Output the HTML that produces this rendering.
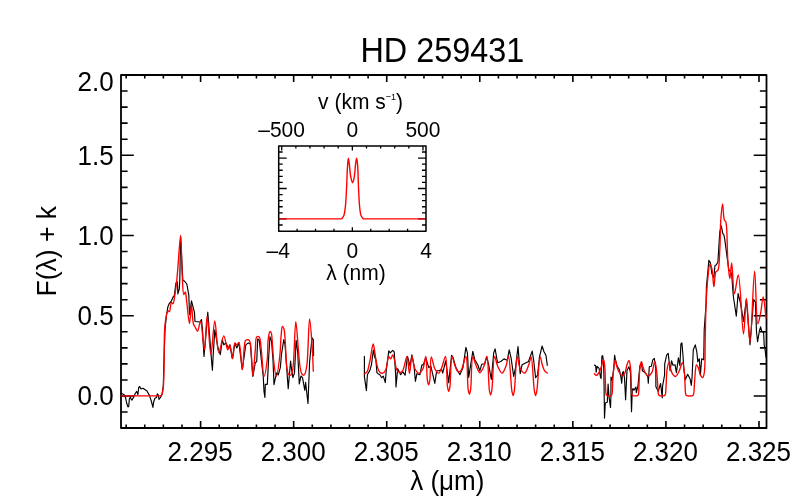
<!DOCTYPE html>
<html><head><meta charset="utf-8"><style>
html,body{margin:0;padding:0;background:#fff;width:806px;height:504px;overflow:hidden}
svg{display:block;will-change:transform}
</style></head><body>
<svg width="806" height="504" viewBox="0 0 806 504">
<rect width="806" height="504" fill="#fff"/>
<path d="M126.15,428.0 V424.5 M126.15,75.0 V78.5 M144.76,428.0 V424.5 M144.76,75.0 V78.5 M163.37,428.0 V424.5 M163.37,75.0 V78.5 M181.99,428.0 V424.5 M181.99,75.0 V78.5 M200.60,428.0 V421.0 M200.60,75.0 V82.0 M219.21,428.0 V424.5 M219.21,75.0 V78.5 M237.83,428.0 V424.5 M237.83,75.0 V78.5 M256.44,428.0 V424.5 M256.44,75.0 V78.5 M275.05,428.0 V424.5 M275.05,75.0 V78.5 M293.66,428.0 V421.0 M293.66,75.0 V82.0 M312.28,428.0 V424.5 M312.28,75.0 V78.5 M330.89,428.0 V424.5 M330.89,75.0 V78.5 M349.50,428.0 V424.5 M349.50,75.0 V78.5 M368.12,428.0 V424.5 M368.12,75.0 V78.5 M386.73,428.0 V421.0 M386.73,75.0 V82.0 M405.34,428.0 V424.5 M405.34,75.0 V78.5 M423.96,428.0 V424.5 M423.96,75.0 V78.5 M442.57,428.0 V424.5 M442.57,75.0 V78.5 M461.18,428.0 V424.5 M461.18,75.0 V78.5 M479.79,428.0 V421.0 M479.79,75.0 V82.0 M498.41,428.0 V424.5 M498.41,75.0 V78.5 M517.02,428.0 V424.5 M517.02,75.0 V78.5 M535.63,428.0 V424.5 M535.63,75.0 V78.5 M554.25,428.0 V424.5 M554.25,75.0 V78.5 M572.86,428.0 V421.0 M572.86,75.0 V82.0 M591.47,428.0 V424.5 M591.47,75.0 V78.5 M610.09,428.0 V424.5 M610.09,75.0 V78.5 M628.70,428.0 V424.5 M628.70,75.0 V78.5 M647.31,428.0 V424.5 M647.31,75.0 V78.5 M665.92,428.0 V421.0 M665.92,75.0 V82.0 M684.54,428.0 V424.5 M684.54,75.0 V78.5 M703.15,428.0 V424.5 M703.15,75.0 V78.5 M721.76,428.0 V424.5 M721.76,75.0 V78.5 M740.38,428.0 V424.5 M740.38,75.0 V78.5 M758.99,428.0 V421.0 M758.99,75.0 V82.0 M121.0,428.10 H127.6 M766.5,428.10 H759.9 M121.0,412.05 H127.6 M766.5,412.05 H759.9 M121.0,396.00 H133.8 M766.5,396.00 H753.7 M121.0,379.95 H127.6 M766.5,379.95 H759.9 M121.0,363.90 H127.6 M766.5,363.90 H759.9 M121.0,347.85 H127.6 M766.5,347.85 H759.9 M121.0,331.80 H127.6 M766.5,331.80 H759.9 M121.0,315.75 H133.8 M766.5,315.75 H753.7 M121.0,299.70 H127.6 M766.5,299.70 H759.9 M121.0,283.65 H127.6 M766.5,283.65 H759.9 M121.0,267.60 H127.6 M766.5,267.60 H759.9 M121.0,251.55 H127.6 M766.5,251.55 H759.9 M121.0,235.50 H133.8 M766.5,235.50 H753.7 M121.0,219.45 H127.6 M766.5,219.45 H759.9 M121.0,203.40 H127.6 M766.5,203.40 H759.9 M121.0,187.35 H127.6 M766.5,187.35 H759.9 M121.0,171.30 H127.6 M766.5,171.30 H759.9 M121.0,155.25 H133.8 M766.5,155.25 H753.7 M121.0,139.20 H127.6 M766.5,139.20 H759.9 M121.0,123.15 H127.6 M766.5,123.15 H759.9 M121.0,107.10 H127.6 M766.5,107.10 H759.9 M121.0,91.05 H127.6 M766.5,91.05 H759.9 M121.0,75.00 H133.8 M766.5,75.00 H753.7" fill="none" stroke="#000" stroke-width="1.6"/>
<path d="M121.0,75.0 H766.5 V428.0 H121.0 Z" fill="none" stroke="#000" stroke-width="1.8" stroke-linejoin="round"/>
<g fill="none" stroke="#000" stroke-width="1.15" stroke-linejoin="round" stroke-linecap="round">
<path d="M121.6,393.4 L124.0,394.6 L125.6,397.8 L126.7,403.3 L127.9,406.9 L128.7,406.5 L129.4,398.6 L130.3,397.4 L131.9,400.2 L133.5,397.4 L135.1,393.8 L136.7,391.4 L137.9,394.6 L138.7,387.5 L139.7,386.5 L141.0,389.0 L143.0,388.3 L147.0,391.0 L149.4,395.4 L151.3,401.0 L152.9,407.3 L153.7,401.7 L154.9,398.2 L156.5,397.4 L157.3,393.8 L158.1,394.6 L159.0,399.4 L160.5,397.4 L162.0,394.6 L163.3,385.9 L163.7,370.0 L165.0,330.0 L166.4,315.7 L167.9,306.8 L169.4,303.3 L171.4,300.8 L172.9,297.4 L174.4,295.4 L175.9,283.0 L177.4,282.0 L177.9,293.9 L179.3,288.9 L179.8,280.0 L180.6,236.5 L182.8,280.0 L184.8,281.5 L186.8,284.0 L188.8,294.9 L189.5,314.5 L191.5,300.8 L194.5,312.7 L195.0,321.5 L200.0,322.0 L201.5,319.5 L202.5,329.8 L204.0,356.4 L205.5,339.3 L207.8,312.2 L209.0,328.0 L211.5,360.0 L212.4,370.3 L213.2,355.0 L214.8,329.9 L217.8,346.8 L220.3,354.7 L222.3,339.8 L223.8,344.8 L225.8,342.8 L228.7,348.8 L230.0,344.9 L232.3,358.6 L234.9,343.4 L236.7,347.9 L238.9,342.9 L242.3,369.5 L245.8,344.9 L248.3,342.9 L250.3,344.0 L252.9,376.4 L255.3,362.5 L256.7,361.7 L257.7,338.9 L259.2,339.9 L260.5,352.0 L263.3,377.2 L264.0,391.5 L264.9,397.4 L265.3,384.3 L267.3,384.3 L268.0,370.9 L268.8,355.0 L270.0,336.7 L271.5,341.0 L273.0,360.0 L274.0,384.7 L275.2,378.8 L276.7,372.9 L278.3,374.8 L280.3,367.7 L281.5,354.1 L283.8,339.6 L285.0,344.3 L287.4,377.6 L288.2,388.7 L290.6,361.0 L291.3,367.3 L292.9,377.6 L294.5,372.9 L296.1,340.3 L297.7,352.2 L299.3,384.0 L300.9,376.0 L302.5,377.6 L304.8,390.3 L305.6,382.4 L308.0,403.5 L309.6,361.7 L312.0,337.9 L313.3,339.5 L313.6,355.4"/>
<path d="M364.4,356.4 L364.4,376.7 L366.4,390.6 L367.4,374.8 L369.9,370.3 L371.4,364.8 L373.4,350.0 L374.9,357.8 L375.9,359.8 L376.9,372.7 L377.9,373.7 L379.8,374.7 L381.8,377.7 L383.3,376.2 L385.3,382.6 L386.3,369.7 L388.8,350.9 L390.3,352.9 L392.7,350.4 L394.2,351.9 L395.7,375.7 L396.0,387.0 L397.7,368.7 L399.7,372.7 L400.7,374.7 L402.7,371.7 L405.1,375.2 L407.5,356.3 L410.0,365.8 L411.9,354.8 L413.9,364.8 L415.4,381.3 L416.9,373.7 L419.9,374.7 L421.9,364.8 L423.4,364.8 L425.8,357.8 L428.8,367.7 L430.8,365.8 L432.8,374.7 L434.8,383.3 L436.7,370.7 L438.7,370.7 L441.7,369.7 L442.7,373.2 L445.7,360.8 L448.7,382.6 L451.6,355.3 L453.0,357.4 L456.0,367.8 L459.9,374.7 L462.9,367.8 L465.9,347.4 L467.4,352.9 L468.7,377.5 L472.8,351.4 L474.8,359.8 L477.8,364.8 L479.8,370.8 L481.7,364.3 L484.7,363.8 L486.7,356.9 L488.7,364.8 L491.3,379.5 L493.7,352.9 L495.1,348.9 L497.6,362.8 L500.8,361.5 L504.0,358.9 L507.3,360.2 L509.2,349.8 L511.1,358.2 L513.7,376.3 L515.6,367.3 L518.0,346.6 L520.2,373.7 L522.1,364.7 L526.0,362.7 L528.5,361.5 L532.2,351.1 L533.7,360.8 L535.6,377.6 L537.6,375.0 L539.5,356.9 L542.1,346.0 L544.0,351.8 L546.0,355.6 L547.3,365.3"/>
<path d="M594.4,365.1 L595.6,365.5 L596.2,372.2 L597.1,366.3 L597.9,367.1 L599.1,368.3 L600.3,376.2 L601.1,378.6 L601.9,356.3 L602.7,355.6 L603.5,361.9 L603.9,373.8 L604.5,418.1 L605.3,403.0 L607.3,402.2 L608.1,384.0 L608.9,395.9 L610.5,407.4 L610.9,397.1 L611.0,377.0 L612.2,380.2 L613.8,368.3 L614.6,355.2 L615.4,359.5 L617.0,365.9 L619.4,369.8 L621.0,377.8 L621.7,383.3 L622.5,373.0 L623.3,371.4 L624.5,377.8 L625.6,399.8 L627.0,370.3 L629.0,366.8 L630.5,372.7 L631.5,411.7 L632.3,390.0 L633.0,388.6 L633.9,390.3 L635.9,387.1 L636.3,392.7 L637.9,386.3 L639.9,365.8 L641.4,362.8 L642.4,370.8 L643.8,371.7 L646.3,374.2 L647.8,376.7 L648.3,383.1 L649.3,366.8 L651.3,366.3 L652.8,359.8 L654.3,358.4 L655.8,368.8 L655.9,386.7 L658.3,391.4 L660.6,383.5 L662.2,397.8 L662.6,385.9 L664.6,374.8 L664.7,363.8 L666.7,354.9 L668.2,353.4 L670.1,370.8 L671.5,360.8 L673.0,365.2 L675.0,364.7 L676.4,372.7 L678.4,357.8 L679.9,365.7 L680.9,343.9 L681.9,342.9 L682.9,354.8 L683.9,369.7 L685.3,379.8 L687.7,374.3 L690.1,379.0 L691.3,385.4 L692.1,376.7 L693.3,349.8 L695.3,344.9 L696.8,351.8 L697.8,361.7 L699.3,358.8 L700.4,374.7 L701.7,358.8 L703.7,359.8 L704.2,330.0 L706.1,303.8 L706.4,286.7 L708.9,260.4 L710.4,262.9 L711.9,273.8 L713.9,277.7 L714.9,265.8 L716.4,264.8 L717.9,261.9 L719.8,231.7 L721.3,225.8 L722.8,233.7 L723.8,234.7 L724.8,239.7 L726.8,254.9 L728.8,269.8 L730.8,271.8 L731.7,274.8 L733.3,296.0 L736.3,316.2 L738.1,293.6 L740.5,303.1 L743.5,321.5 L746.4,299.5 L750.0,344.8 L753.6,299.5 L755.4,301.9 L756.5,331.7 L757.6,341.7 L759.4,331.0 L760.6,326.8 L761.8,331.5 L763.6,332.1 L764.2,345.2 L764.8,347.6 L766.0,357.1"/>
</g>
<g fill="none" stroke="#f00" stroke-width="1.35" stroke-linejoin="round" stroke-linecap="round">
<path d="M121.00,395.80 C123.33,395.80 130.25,395.80 135.00,395.80 C139.91,395.80 145.53,395.80 150.00,395.80 C153.61,395.80 157.97,395.92 159.80,395.80 C160.52,395.75 160.90,395.89 161.30,395.60 C161.79,395.24 162.02,394.41 162.30,393.50 C162.76,392.04 163.04,390.03 163.30,387.50 C163.74,383.20 163.81,377.02 164.00,370.00 C164.29,359.39 163.99,339.50 164.60,330.00 C164.94,324.71 165.33,321.19 166.00,317.70 C166.51,315.05 167.01,311.15 167.90,310.80 C168.34,310.62 168.96,311.89 169.40,311.70 C170.42,311.26 170.46,302.58 171.40,302.30 C171.84,302.17 172.46,303.93 172.90,303.80 C173.82,303.53 174.33,298.03 174.90,294.90 C175.52,291.46 175.95,287.87 176.40,284.00 C176.90,279.63 177.20,275.70 177.70,270.00 C178.49,261.05 179.86,235.48 180.60,235.50 C181.39,235.52 181.53,264.14 182.20,275.00 C182.67,282.64 182.73,294.26 183.80,294.50 C184.22,294.59 184.90,291.82 185.30,291.90 C185.96,292.02 186.04,296.45 186.50,299.80 C187.31,305.61 188.65,323.71 189.50,323.70 C190.25,323.69 190.75,304.80 191.40,304.80 C192.05,304.80 192.25,319.83 193.40,323.70 C193.95,325.56 194.71,326.31 195.40,327.60 C196.08,328.88 196.82,331.47 197.50,331.40 C198.55,331.29 199.58,321.43 200.50,321.50 C202.03,321.62 203.31,349.83 204.40,349.80 C205.58,349.77 206.16,316.11 207.20,316.10 C208.31,316.09 209.59,354.69 210.90,354.70 C212.13,354.71 213.46,321.01 214.80,321.00 C216.10,320.99 216.94,352.55 218.80,352.70 C220.18,352.81 222.26,335.89 223.80,335.90 C225.20,335.91 226.53,349.74 227.70,349.80 C228.41,349.84 229.05,344.75 229.70,344.80 C230.75,344.89 231.85,358.73 232.70,358.70 C233.60,358.67 233.57,343.35 234.90,342.90 C235.46,342.71 236.25,344.94 236.90,344.90 C237.59,344.86 238.30,342.23 238.90,342.40 C240.65,342.89 241.34,369.71 242.40,369.70 C243.48,369.69 243.50,343.89 245.30,340.90 C245.75,340.15 246.24,340.07 246.80,339.90 C247.39,339.72 248.26,339.56 248.80,339.90 C249.51,340.34 249.86,341.30 250.30,342.90 C251.69,347.91 251.91,375.59 252.80,375.60 C253.59,375.61 254.57,357.12 255.30,350.00 C255.82,344.91 255.23,338.22 256.70,336.90 C257.34,336.32 258.53,336.32 259.20,336.90 C260.76,338.24 260.62,345.01 261.30,350.20 C262.25,357.46 262.86,376.35 264.00,376.40 C264.91,376.44 266.48,365.88 267.20,360.00 C268.02,353.30 267.53,343.47 268.30,338.30 C268.74,335.37 269.27,331.70 270.00,331.50 C270.36,331.40 270.87,332.01 271.20,332.70 C272.05,334.48 272.03,339.75 272.40,343.80 C272.85,348.69 272.96,354.60 273.60,360.00 C274.25,365.46 275.33,376.40 276.30,376.40 C277.38,376.40 279.00,362.80 279.80,356.00 C280.59,349.30 280.55,341.33 281.10,335.90 C281.48,332.17 281.63,326.68 282.40,326.50 C282.81,326.40 283.51,327.65 283.90,328.70 C284.64,330.68 284.64,334.01 285.00,338.00 C285.65,345.15 285.98,361.92 286.90,368.00 C287.31,370.71 287.54,372.59 288.30,373.80 C288.76,374.53 289.42,375.19 290.00,375.20 C290.59,375.21 291.32,374.61 291.80,373.80 C292.76,372.20 292.84,369.06 293.30,365.00 C294.32,356.03 294.84,321.62 295.80,321.60 C296.58,321.59 297.63,341.81 298.40,350.00 C298.99,356.24 299.28,362.14 300.00,366.50 C300.48,369.41 300.89,372.25 301.70,373.70 C302.13,374.47 302.68,375.16 303.20,375.20 C303.71,375.24 304.33,374.72 304.80,374.00 C305.80,372.46 306.29,369.20 306.90,365.00 C308.26,355.63 308.58,319.02 309.60,319.00 C310.42,318.99 311.68,339.58 312.30,348.80 C312.84,356.76 313.13,367.38 313.30,371.10"/>
<path d="M364.40,373.80 C364.82,373.53 366.18,373.19 366.90,372.20 C368.34,370.22 368.94,364.99 369.90,360.80 C371.06,355.74 372.29,343.90 373.20,343.90 C373.87,343.90 374.33,349.69 374.90,352.90 C375.56,356.59 375.94,361.35 376.90,364.80 C377.68,367.60 378.45,370.92 379.80,372.20 C380.65,373.01 381.88,373.46 382.80,373.20 C383.91,372.89 384.95,371.38 385.80,369.70 C387.24,366.86 387.50,357.17 388.80,356.80 C389.40,356.63 390.20,358.90 390.80,358.80 C391.54,358.67 392.10,354.76 392.70,354.80 C393.42,354.84 394.08,358.59 394.70,360.80 C395.44,363.46 395.56,367.63 396.70,369.70 C397.48,371.11 398.66,372.60 399.70,372.70 C400.66,372.80 401.80,371.92 402.70,370.70 C404.54,368.21 405.88,356.22 407.00,356.30 C408.20,356.39 408.68,373.40 409.50,373.40 C410.32,373.40 410.90,356.35 411.90,356.30 C412.76,356.26 413.34,365.72 414.90,368.70 C415.97,370.75 417.57,373.20 418.90,373.20 C420.23,373.20 421.84,370.75 422.90,368.70 C424.44,365.72 425.08,356.24 425.80,356.30 C426.79,356.38 426.61,375.49 427.40,380.30 C427.75,382.42 428.20,384.80 428.60,384.80 C429.00,384.80 429.45,382.41 429.80,380.30 C430.58,375.55 430.16,356.93 431.30,356.80 C432.13,356.71 433.21,365.80 434.80,368.70 C435.90,370.71 437.56,373.32 438.70,373.20 C439.87,373.07 440.74,369.92 441.70,367.70 C443.04,364.63 444.56,356.18 445.50,356.30 C447.00,356.49 446.58,381.18 447.50,386.80 C447.86,388.99 448.30,391.30 448.70,391.30 C449.10,391.30 449.54,388.99 449.90,386.80 C450.83,381.19 450.63,356.57 452.00,356.40 C452.78,356.31 453.90,363.07 455.00,365.80 C455.90,368.03 456.65,371.15 457.90,371.70 C458.76,372.08 459.98,371.69 460.90,370.80 C462.94,368.85 464.70,356.24 465.90,356.40 C467.68,356.64 467.21,383.76 468.20,389.70 C468.57,391.92 469.00,394.20 469.40,394.20 C469.80,394.20 470.23,391.92 470.60,389.70 C471.57,383.81 471.24,357.13 472.80,356.90 C473.59,356.78 474.65,362.20 475.80,364.80 C476.98,367.46 478.40,372.62 479.80,372.70 C481.05,372.77 482.60,369.14 483.70,366.80 C485.07,363.90 486.05,356.30 486.90,356.40 C488.41,356.57 488.38,384.47 489.40,390.50 C489.78,392.73 490.20,395.00 490.60,395.00 C491.00,395.00 491.41,392.73 491.80,390.50 C492.84,384.47 493.08,356.57 494.60,356.40 C495.43,356.31 496.27,363.12 497.60,366.00 C498.82,368.63 500.69,373.14 502.10,373.10 C503.49,373.06 504.96,368.62 506.00,366.00 C507.16,363.08 507.75,356.24 508.50,356.30 C509.91,356.41 510.79,384.99 511.90,391.10 C512.30,393.33 512.70,395.60 513.10,395.60 C513.50,395.60 513.91,393.33 514.30,391.10 C515.35,385.06 515.78,357.02 517.20,356.90 C518.04,356.83 518.60,365.66 520.20,368.50 C521.38,370.58 523.35,373.33 524.70,373.10 C526.44,372.80 528.09,366.35 529.20,363.40 C530.08,361.05 530.51,356.84 531.10,356.90 C532.43,357.03 533.31,385.05 534.40,391.10 C534.80,393.33 535.20,395.60 535.60,395.60 C536.00,395.60 536.40,393.33 536.80,391.10 C537.90,385.05 538.88,357.00 540.20,356.90 C540.85,356.85 541.50,362.55 542.30,365.00 C542.99,367.12 543.59,369.39 544.60,370.80 C545.36,371.86 546.85,372.72 547.30,373.10"/>
<path d="M594.40,373.80 C594.72,374.07 595.64,375.43 596.30,375.40 C597.07,375.37 597.99,374.05 598.70,373.00 C599.65,371.61 600.36,369.53 601.10,367.50 C601.98,365.11 602.88,359.47 603.50,359.50 C604.04,359.53 604.40,363.27 604.70,365.90 C605.18,370.04 605.13,376.97 605.40,382.00 C605.64,386.43 605.53,392.63 606.20,394.50 C606.42,395.12 606.55,395.37 607.00,395.60 C607.78,396.00 610.19,395.99 611.00,395.60 C611.48,395.37 611.65,395.13 611.90,394.50 C612.63,392.64 612.41,386.14 612.70,382.00 C612.98,377.91 613.15,373.65 613.60,369.80 C614.01,366.32 614.62,359.92 615.20,359.90 C615.64,359.88 616.06,363.67 616.60,365.50 C617.13,367.30 617.67,369.24 618.40,370.80 C619.03,372.16 619.80,373.53 620.60,374.40 C621.20,375.05 621.86,375.87 622.50,375.80 C623.30,375.71 624.23,374.28 624.90,373.00 C625.91,371.06 626.20,367.10 627.00,364.80 C627.61,363.05 628.45,360.24 629.00,360.30 C629.68,360.38 630.14,364.89 630.50,367.80 C630.99,371.77 630.94,377.42 631.20,382.00 C631.44,386.30 631.33,392.63 632.00,394.50 C632.22,395.12 632.33,395.36 632.80,395.60 C633.68,396.05 636.72,396.05 637.60,395.60 C638.07,395.36 638.18,395.12 638.40,394.50 C639.07,392.63 638.88,386.06 639.10,382.00 C639.31,378.14 639.28,374.28 639.70,370.70 C640.08,367.41 640.80,361.33 641.40,361.30 C641.85,361.28 642.23,364.73 642.80,366.50 C643.41,368.40 644.00,370.66 645.00,372.30 C645.89,373.77 647.16,375.95 648.30,376.00 C649.43,376.05 650.84,374.32 651.80,372.70 C653.30,370.17 653.97,361.27 654.80,361.30 C655.59,361.33 656.23,368.01 656.70,371.70 C657.23,375.85 657.38,380.94 657.70,385.00 C657.97,388.43 657.87,392.93 658.50,394.50 C658.75,395.11 658.90,395.36 659.40,395.60 C660.35,396.05 663.45,396.05 664.40,395.60 C664.90,395.36 665.05,395.11 665.30,394.50 C665.93,392.93 665.85,388.53 666.10,385.00 C666.42,380.57 666.40,374.07 667.00,370.00 C667.42,367.14 668.07,362.82 668.70,362.80 C669.28,362.78 669.93,366.86 670.60,368.80 C671.24,370.66 671.63,372.87 672.60,374.20 C673.37,375.27 674.56,376.63 675.50,376.50 C676.68,376.33 677.86,373.62 678.90,371.70 C680.23,369.23 681.50,362.63 682.40,362.70 C683.28,362.77 683.87,368.46 684.30,371.70 C684.80,375.42 684.74,379.89 685.00,383.80 C685.24,387.48 685.12,392.81 685.80,394.50 C686.05,395.12 686.18,395.35 686.70,395.60 C687.76,396.10 691.54,396.10 692.60,395.60 C693.12,395.35 693.25,395.12 693.50,394.50 C694.22,392.73 694.20,386.79 694.50,383.00 C694.80,379.29 694.93,375.27 695.30,372.00 C695.60,369.34 695.70,364.95 696.40,364.80 C696.90,364.69 697.82,366.60 698.40,367.90 C699.23,369.75 699.42,373.42 700.40,375.10 C701.06,376.23 702.17,377.66 702.80,377.50 C703.63,377.29 703.99,374.57 704.40,371.90 C705.35,365.66 704.93,350.97 705.20,340.00 C705.49,328.31 705.58,314.88 706.10,303.80 C706.54,294.38 707.11,284.95 707.90,277.70 C708.47,272.48 708.96,264.43 709.90,264.30 C710.47,264.22 711.34,266.74 711.90,268.80 C712.97,272.73 713.20,286.69 713.90,286.70 C714.54,286.71 714.55,274.11 715.90,271.80 C716.45,270.86 717.35,271.28 717.90,270.30 C719.47,267.49 719.33,257.44 719.80,250.00 C720.37,240.94 720.18,228.24 720.80,219.80 C721.25,213.68 722.02,204.00 722.60,204.00 C723.18,204.00 723.24,217.10 724.30,219.80 C724.72,220.87 725.37,220.61 725.80,221.80 C727.49,226.46 726.97,249.43 727.80,259.90 C728.39,267.27 729.12,278.70 729.80,278.70 C730.42,278.70 731.06,262.89 731.70,262.90 C732.59,262.91 733.08,293.72 734.40,293.80 C735.44,293.86 737.11,274.93 738.30,275.00 C740.38,275.12 742.04,334.00 743.50,334.00 C744.63,334.00 745.38,298.50 746.40,298.50 C747.53,298.50 748.80,342.41 750.00,342.40 C751.53,342.39 753.22,271.20 754.60,271.20 C755.78,271.20 756.07,323.63 757.80,323.80 C758.59,323.88 759.77,317.05 760.60,313.10 C761.61,308.30 762.35,296.99 763.20,297.00 C764.16,297.01 765.53,314.42 766.00,317.90"/>
</g>
<rect x="278.7" y="145.9" width="147.30" height="85.30" fill="#fff" stroke="none"/>
<path d="M297.11,231.2 V228.7 M315.53,231.2 V228.7 M333.94,231.2 V228.7 M352.35,231.2 V227.2 M370.76,231.2 V228.7 M389.18,231.2 V228.7 M407.59,231.2 V228.7 M281.72,145.9 V150.4 M295.85,145.9 V148.4 M309.97,145.9 V148.4 M324.10,145.9 V148.4 M338.22,145.9 V148.4 M352.35,145.9 V150.4 M366.48,145.9 V148.4 M380.60,145.9 V148.4 M394.73,145.9 V148.4 M408.85,145.9 V148.4 M422.98,145.9 V150.4 M278.7,224.98 H282.7 M426.0,224.98 H422.0 M278.7,218.90 H286.7 M426.0,218.90 H418.0 M278.7,212.82 H282.7 M426.0,212.82 H422.0 M278.7,206.74 H282.7 M426.0,206.74 H422.0 M278.7,200.66 H282.7 M426.0,200.66 H422.0 M278.7,194.58 H282.7 M426.0,194.58 H422.0 M278.7,188.50 H286.7 M426.0,188.50 H418.0 M278.7,182.42 H282.7 M426.0,182.42 H422.0 M278.7,176.34 H282.7 M426.0,176.34 H422.0 M278.7,170.26 H282.7 M426.0,170.26 H422.0 M278.7,164.18 H282.7 M426.0,164.18 H422.0 M278.7,158.10 H286.7 M426.0,158.10 H418.0 M278.7,152.02 H282.7 M426.0,152.02 H422.0" fill="none" stroke="#000" stroke-width="1.3"/>
<path d="M278.7,218.9 L341.7,218.9 C342.07,218.33 343.33,216.98 343.90,215.50 C344.76,213.28 344.99,210.08 345.40,206.50 C345.99,201.29 346.24,193.87 346.60,187.20 C346.98,180.04 347.17,170.16 347.60,164.90 C347.84,162.01 348.10,158.20 348.40,158.20 C348.70,158.20 349.08,162.38 349.40,164.90 C349.82,168.13 349.95,172.79 350.60,176.00 C351.11,178.54 351.97,182.70 352.60,182.70 C353.19,182.70 353.85,179.13 354.30,176.80 C354.93,173.55 355.05,168.29 355.50,164.90 C355.84,162.34 356.25,158.20 356.60,158.20 C356.95,158.20 357.33,162.01 357.60,164.90 C358.10,170.15 358.15,180.04 358.50,187.20 C358.82,193.87 359.05,201.29 359.60,206.50 C359.98,210.08 360.13,213.28 361.00,215.50 C361.58,216.99 362.92,218.33 363.30,218.90 L426.0,218.9" fill="none" stroke="#f00" stroke-width="1.4" stroke-linejoin="round"/>
<path d="M278.7,145.9 H426.0 V231.2 H278.7 Z" fill="none" stroke="#000" stroke-width="1.5" stroke-linejoin="round"/>
<g font-family="Liberation Sans, sans-serif" fill="#000">
<text transform="translate(442.4,61.9) scale(1.0,1.065)" font-size="32.4" text-anchor="middle">HD 259431</text>
<text transform="translate(113.6,90.8) scale(1.0,1.06)" font-size="26" text-anchor="end">2.0</text>
<text transform="translate(113.6,165.1) scale(1.0,1.06)" font-size="26" text-anchor="end">1.5</text>
<text transform="translate(113.6,245.2) scale(1.0,1.06)" font-size="26" text-anchor="end">1.0</text>
<text transform="translate(113.6,325.0) scale(1.0,1.06)" font-size="26" text-anchor="end">0.5</text>
<text transform="translate(113.6,405.2) scale(1.0,1.06)" font-size="26" text-anchor="end">0.0</text>
<text transform="translate(200.1,461.3) scale(1.0,1.06)" font-size="26" text-anchor="middle">2.295</text>
<text transform="translate(293.16999999999996,461.3) scale(1.0,1.06)" font-size="26" text-anchor="middle">2.300</text>
<text transform="translate(386.24,461.3) scale(1.0,1.06)" font-size="26" text-anchor="middle">2.305</text>
<text transform="translate(479.30999999999995,461.3) scale(1.0,1.06)" font-size="26" text-anchor="middle">2.310</text>
<text transform="translate(572.38,461.3) scale(1.0,1.06)" font-size="26" text-anchor="middle">2.315</text>
<text transform="translate(665.4499999999999,461.3) scale(1.0,1.06)" font-size="26" text-anchor="middle">2.320</text>
<text transform="translate(758.52,461.3) scale(1.0,1.06)" font-size="26" text-anchor="middle">2.325</text>
<text transform="translate(447.3,490.0) scale(1.0,1.06)" font-size="26" text-anchor="middle">λ (μm)</text>
<text transform="translate(56.2,251.2) rotate(-90) scale(1.02,1.06)" font-size="26" text-anchor="middle">F(λ) + k</text>
<text transform="translate(360.5,108.6) scale(1.0,1.06)" font-size="21" text-anchor="middle">v (km s<tspan font-size="9" dy="-8.5">−1</tspan><tspan dy="8.5">)</tspan></text>
<text transform="translate(281.6,137.4) scale(1.0,1.06)" font-size="21" text-anchor="middle">–500</text>
<text transform="translate(352.3,137.4) scale(1.0,1.06)" font-size="21" text-anchor="middle">0</text>
<text transform="translate(422.9,137.4) scale(1.0,1.06)" font-size="21" text-anchor="middle">500</text>
<text transform="translate(278.3,257.9) scale(1.0,1.06)" font-size="21" text-anchor="middle">–4</text>
<text transform="translate(352.3,257.9) scale(1.0,1.06)" font-size="21" text-anchor="middle">0</text>
<text transform="translate(426.2,257.9) scale(1.0,1.06)" font-size="21" text-anchor="middle">4</text>
<text transform="translate(356,279.5) scale(1.0,1.06)" font-size="21" text-anchor="middle">λ (nm)</text>
</g>
</svg>
</body></html>
